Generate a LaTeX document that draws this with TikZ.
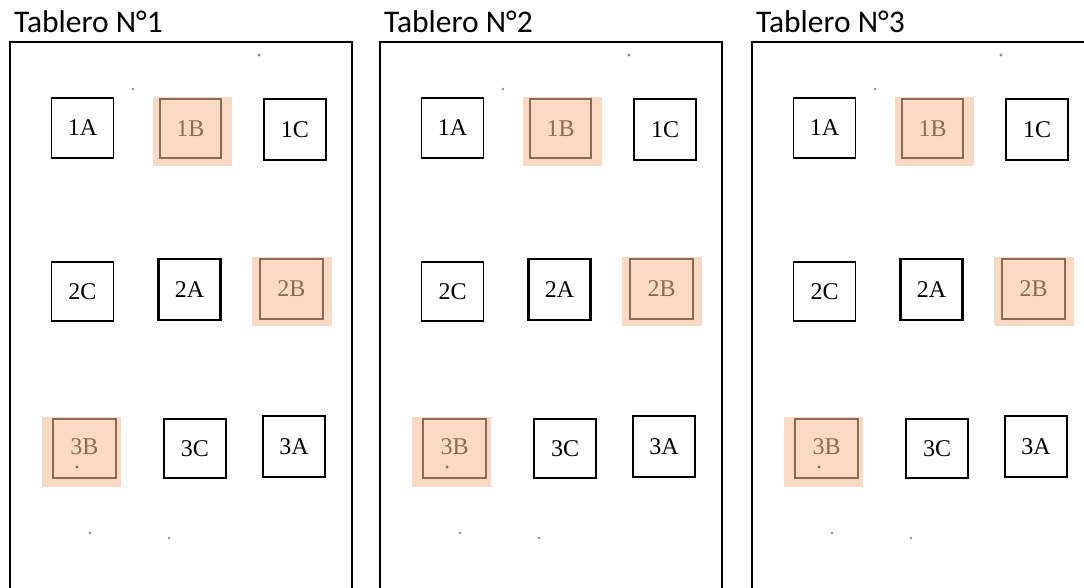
\documentclass[tikz,border=0pt]{standalone}
\usepackage{fontspec}
\setmainfont{Liberation Serif}
\newfontfamily\titlefont{Carlito}
\definecolor{hlfill}{RGB}{250,218,196}
\definecolor{hlline}{RGB}{140,106,84}
\definecolor{speck}{RGB}{140,140,140}
\tikzset{
  frame/.style={draw=black, line width=2.2pt},
  title/.style={anchor=base west, inner sep=0pt, font=\titlefont\fontsize{31.5}{31.5}\selectfont},
  cell/.style={draw=black, line width=1.8pt, minimum width=62pt, minimum height=60pt, inner sep=0pt, font=\fontsize{24}{24}\selectfont},
  heavycell/.style={cell, line width=2.4pt},
  hlcell/.style={cell, draw=hlline, text=hlline, line width=1.8pt},
  hlbg/.style={fill=hlfill, draw=none, minimum width=79pt, minimum height=69pt, inner sep=0pt},
  dot/.style={fill=speck, draw=none, circle, inner sep=0pt, minimum size=3.4pt},
}
\begin{document}
\begin{tikzpicture}[x=1pt,y=-1pt]
\useasboundingbox (0,0) rectangle (1084,588);
\clip (0,0) rectangle (1084,588);
\fill[white] (0,0) rectangle (1084,588);
\foreach \p/\dx in {1/0, 2/370, 3/742} {
  \begin{scope}[shift={(\dx,0)}]
    \node[title] (t\p) at (14,33) {Tablero N°\p};
    \coordinate (fl\p) at (10,600);
    \coordinate (fr\p) at (352,600);
    \draw[frame] (fl\p) -- (10,42) -- (352,42) -- (fr\p);
    % highlight backgrounds
    \node[hlbg] (bg1B\p) at (192.5,131.5) {};
    \node[hlbg, minimum width=80pt] (bg2B\p) at (292,291.5) {};
    \node[hlbg, minimum height=70pt] (bg3B\p) at (81.5,452) {};
    % row 1
    \node[cell] (c1A\p) at (82.5,128) {1A};
    \node[hlcell, minimum width=61pt, minimum height=59pt] (c1B\p) at (190.5,128.5) {1B};
    \node[heavycell, minimum height=61pt] (c1C\p) at (295,129.5) {1C};
    % row 2
    \node[cell, minimum height=59pt] (c2C\p) at (82.5,291.5) {2C};
    \node[heavycell, minimum height=61pt] (c2A\p) at (189.5,289.5) {2A};
    \node[hlcell, minimum width=63pt] (c2B\p) at (291.5,289) {2B};
    % row 3
    \node[hlcell, minimum width=63pt, minimum height=59pt] (c3B\p) at (84.5,448.5) {\raisebox{4pt}{3B}};
    \node[cell, minimum height=59pt] (c3C\p) at (195,448.5) {3C};
    \node[heavycell, minimum height=61pt] (c3A\p) at (294,446.5) {3A};
    % specks
    \node[dot] (d1\p) at (259,55) {};
    \node[dot, minimum size=2.6pt] (d2\p) at (133,89) {};
    \node[dot, minimum size=2.6pt] (d3\p) at (90,533) {};
    \node[dot, minimum size=2.6pt] (d4\p) at (169,538) {};
    \node[dot, fill=hlline] (d5\p) at (77,467) {};
  \end{scope}
}
\end{tikzpicture}
\end{document}
